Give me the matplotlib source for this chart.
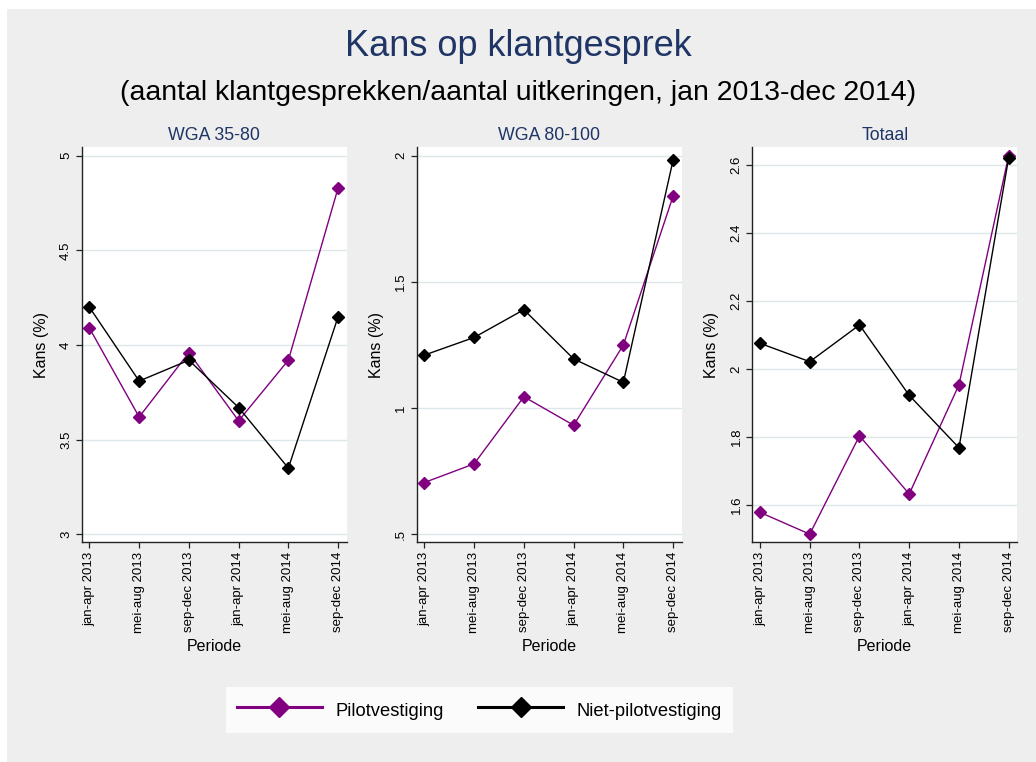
import matplotlib
matplotlib.use("Agg")
import matplotlib.pyplot as plt
from matplotlib.lines import Line2D
from matplotlib.patches import Rectangle

plt.rcParams['font.family'] = ['Liberation Sans', 'DejaVu Sans']

periods = ["jan-apr 2013", "mei-aug 2013", "sep-dec 2013",
           "jan-apr 2014", "mei-aug 2014", "sep-dec 2014"]
panel_titles = ["WGA 35-80", "WGA 80-100", "Totaal"]

pilot_wga3580 = [4.09, 3.62, 3.96, 3.60, 3.92, 4.83]
niet_wga3580 = [4.20, 3.81, 3.92, 3.67, 3.35, 4.15]
pilot_wga80100 = [0.705, 0.779, 1.045, 0.932, 1.250, 1.840]
niet_wga80100 = [1.210, 1.280, 1.390, 1.195, 1.102, 1.983]
pilot_totaal = [1.579, 1.515, 1.804, 1.633, 1.954, 2.628]
niet_totaal = [2.076, 2.022, 2.130, 1.923, 1.769, 2.622]

yticks = [[3, 3.5, 4, 4.5, 5], [0.5, 1, 1.5, 2], [1.6, 1.8, 2, 2.2, 2.4, 2.6]]
yticklabels = [["3", "3.5", "4", "4.5", "5"], [".5", "1", "1.5", "2"],
               ["1.6", "1.8", "2", "2.2", "2.4", "2.6"]]
ylims = [(2.958, 5.048), (0.468, 2.036), (1.491, 2.654)]

pilot = [pilot_wga3580, pilot_wga80100, pilot_totaal]
niet = [niet_wga3580, niet_wga80100, niet_totaal]

PURPLE = '#800080'
BG = '#EEEEEE'
NAVY = '#1F3566'
GRID = '#DDE6EA'

W, H = 1036, 762
fig = plt.figure(figsize=(W / 100, H / 100), dpi=100)
fig.patch.set_facecolor('white')
fig.patches.append(Rectangle((7 / W, 0), 1 - 7 / W, 1 - 9 / H, transform=fig.transFigure,
                             facecolor=BG, edgecolor='none', zorder=-10))

lefts = [81.7, 416.7, 752.3]
top_px, bot_px = 146.7, 542.3
aw = 265.0
x = list(range(len(periods)))

for i in range(3):
    ax = fig.add_axes([lefts[i] / W, 1 - bot_px / H, aw / W, (bot_px - top_px) / H])
    ax.set_facecolor('white')
    ax.plot(x, pilot[i], color=PURPLE, lw=1.0, marker='D', markersize=6, zorder=3)
    ax.plot(x, niet[i], color='black', lw=1.0, marker='D', markersize=6, zorder=4)
    ax.set_xlim(-0.155, 5.173)
    ax.set_ylim(*ylims[i])
    ax.set_yticks(yticks[i])
    ax.set_yticklabels(yticklabels[i], rotation=90, va='center', fontsize=9.5)
    ax.set_xticks(x)
    ax.set_xticklabels(periods, rotation=90, fontsize=9.5)
    for y in yticks[i]:
        ax.axhline(y, color=GRID, lw=1.0, zorder=1)
    for s in ['top', 'right']:
        ax.spines[s].set_visible(False)
    for s in ['left', 'bottom']:
        ax.spines[s].set_color('#222222')
        ax.spines[s].set_linewidth(1.0)
    ax.tick_params(direction='out', length=4, width=0.9, color='#222222', pad=3)
    ax.set_xlabel("Periode", fontsize=11.5, labelpad=4)
    ax.set_ylabel("Kans (%)", fontsize=11.5, labelpad=8)
    ax.set_title(panel_titles[i], fontsize=12.8, color=NAVY, pad=5)

fig.text(0.5, 1 - 47 / H, "Kans op klantgesprek", ha='center', va='center',
         fontsize=26, color=NAVY)
fig.text(0.5, 1 - 93 / H, "(aantal klantgesprekken/aantal uitkeringen, jan 2013-dec 2014)",
         ha='center', va='center', fontsize=20.5, color='black')

handles = [Line2D([0], [0], color=PURPLE, lw=2.2, marker='D', markersize=10),
           Line2D([0], [0], color='black', lw=2.2, marker='D', markersize=10)]
leg = fig.legend(handles, ["Pilotvestiging", "Niet-pilotvestiging"], ncol=2,
                 loc='center', bbox_to_anchor=(479.5 / W, 1 - 710 / H),
                 fontsize=13.2, frameon=True, fancybox=False, handlelength=4.6,
                 columnspacing=1.9, borderpad=0.6, borderaxespad=0,
                 handletextpad=0.75, handleheight=1.6)
leg.get_frame().set_facecolor('white')
leg.get_frame().set_edgecolor('white')
leg.get_frame().set_linewidth(0)

fig.savefig("out.png", dpi=100, facecolor=fig.get_facecolor())
